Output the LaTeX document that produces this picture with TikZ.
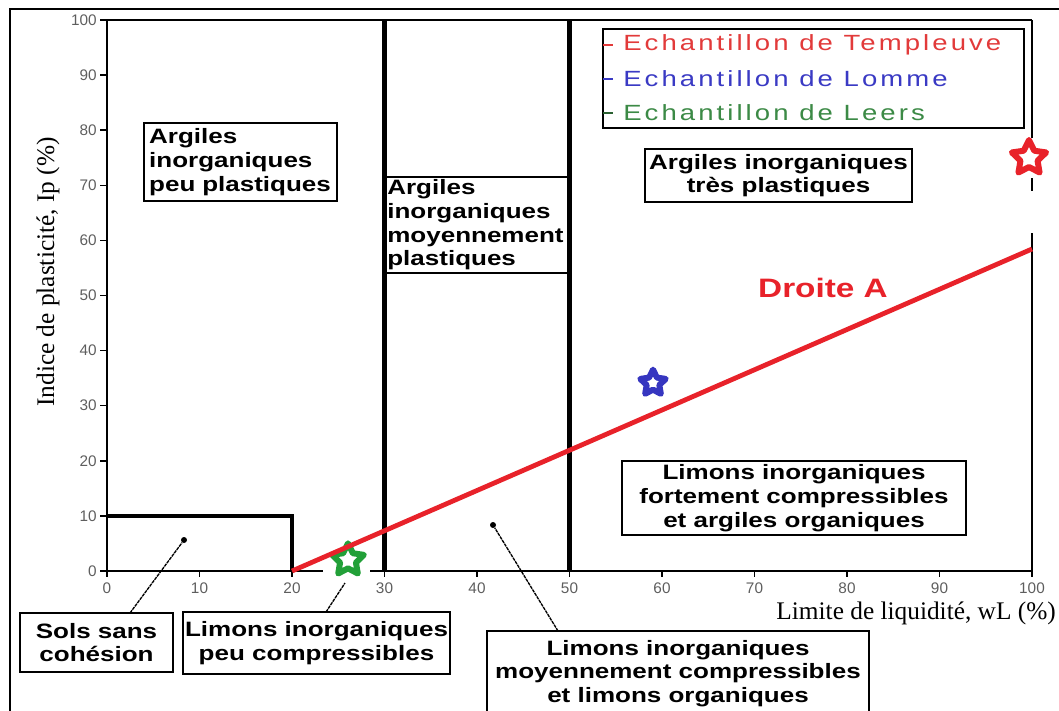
\documentclass[tikz,border=0pt]{standalone}
\usepackage{fontspec}
\setmainfont{Liberation Sans}
\newfontfamily\boxfont{Liberation Sans}[FakeStretch=1.25]
\newfontfamily\legfont{Liberation Sans}[FakeStretch=1.25,LetterSpace=14]
\newfontfamily\serf{Liberation Serif}
\usetikzlibrary{shapes.geometric}
\definecolor{tickgray}{HTML}{5E5E5E}
\definecolor{lineRed}{HTML}{E8222A}
\definecolor{legRed}{HTML}{E23A3A}
\definecolor{legBlue}{HTML}{3A3AC4}
\definecolor{legGreen}{HTML}{3C8A46}
\definecolor{starBlue}{HTML}{3636C0}
\definecolor{starGreen}{HTML}{22A038}
\begin{document}
\begin{tikzpicture}[x=0.75pt,y=-0.75pt,
  box/.style={draw, line width=1.4pt, fill=white, inner sep=0pt, align=center,
    font=\boxfont\bfseries\fontsize{15.6}{17.8}\selectfont},
  axis/.style={line width=1.1pt},
  ticklbl/.style={font=\fontsize{11.5}{12}\selectfont, text=tickgray, inner sep=0pt},
  leader/.style={line width=1pt, dash pattern=on 2.5pt off 0.6pt},
  heavy/.style={line width=3.6pt},
  sample/.style={star, star points=5, star point ratio=2, line width=4.5pt, fill=white, inner sep=0pt, line join=round},
  dot/.style={circle, fill=black, inner sep=0pt, minimum size=4.5pt},
  legtxt/.style={anchor=west, inner sep=0pt, font=\legfont\fontsize{16.5}{18}\selectfont}
]
\useasboundingbox (0,0) rectangle (1059,710);
% outer frame
\draw[line width=1.5pt] (10,715) -- (10,9) -- (1065,9);

% axes
\draw[axis] (107,571) -- (107,20) -- (1032,20);
\draw[axis] (1032,20) -- (1032,138);
\draw[axis] (1032,178) -- (1032,191);
\draw[line width=2pt] (1032,233) -- (1032,571);
\draw[axis] (107,571) -- (323,571);
\draw[axis] (370,571) -- (1032,571);
\foreach \v in {0,10,...,100} {
  \pgfmathsetmacro\yy{571-5.51*\v}
  \pgfmathsetmacro\xx{107+9.25*\v}
  \draw[axis] (100,\yy) -- (107,\yy);
  \node[ticklbl, anchor=east] (ty\v) at (97,\yy) {\v};
  \draw[axis] (\xx,571) -- (\xx,577);
  \node[ticklbl] (tx\v) at (\xx,588) {\v};
}

% axis titles
\node[font=\serf\fontsize{19}{20}\selectfont, rotate=90, inner sep=0pt] (ylab) at (48,272) {Indice de plasticité, Ip (\%)};
\node[font=\serf\fontsize{19}{20}\selectfont, anchor=east, inner sep=0pt] (xlab) at (1056,613) {Limite de liquidité, wL (\%)};

% zone boundaries
\draw[heavy] (384.5,20) -- (384.5,571);
\draw[heavy] (569.5,20) -- (569.5,571);
\draw[line width=3pt] (107,516) -- (292,516) -- (292,571);

% samples
\node[sample, draw=starGreen, minimum size=25pt] (sLeers) at (348,560) {};
\node[sample, draw=starBlue, minimum size=20pt] (sLomme) at (653,383) {};
\node[sample, draw=lineRed, minimum size=27pt] (sTemp) at (1029,158) {};

% A-line
\coordinate (a0) at (292,571);
\coordinate (a1) at (1032,249);
\draw[line width=3.6pt, lineRed] (a0) -- (a1);
\node[text=lineRed, font=\boxfont\bfseries\fontsize{20}{22}\selectfont, inner sep=0pt] (droite) at (823,288) {Droite A};

% zone labels
\node[box, minimum width=144.75pt, minimum height=58.5pt, text width=137pt, align=left] (b1) at (240.5,162)
  {Argiles\\inorganiques\\peu plastiques};
\node[box, draw=none, fill=none, minimum width=138.75pt, minimum height=72pt, text width=136pt, align=left] (b2) at (478,225)
  {Argiles\\inorganiques\\moyennement\\plastiques};
\draw[line width=1.1pt] (384.5,177) -- (569.5,177);
\draw[line width=1.1pt] (384.5,273) -- (569.5,273);
\node[box, minimum width=200.25pt, minimum height=39.75pt] (b3) at (778.5,175.5)
  {Argiles inorganiques\\très plastiques};
\node[box, minimum width=258pt, minimum height=55.5pt] (b4) at (794,498)
  {Limons inorganiques\\fortement compressibles\\et argiles organiques};

% legend
\node[draw, line width=1.4pt, fill=white, minimum width=315.75pt, minimum height=74.25pt, inner sep=0pt] (leg) at (813.5,78.5) {};
\draw[line width=1.8pt, legRed] (603,45) -- (613,45);
\draw[line width=1.8pt, legBlue] (603,79) -- (613,79);
\draw[line width=1.8pt, legGreen!70!black] (603,113) -- (613,113);
\node[legtxt, text=legRed] (l1) at (623,45) {Echantillon de Templeuve};
\node[legtxt, text=legBlue] (l2) at (623,79) {Echantillon de Lomme};
\node[legtxt, text=legGreen] (l3) at (623,113) {Echantillon de Leers};

% bottom boxes
\node[box, minimum width=114.75pt, minimum height=44.25pt] (b5) at (96.5,642.5)
  {Sols sans\\cohésion};
\node[box, minimum width=200.25pt, minimum height=46.5pt] (b6) at (316.5,643)
  {Limons inorganiques\\peu compressibles};
\node[box, minimum width=286.5pt, minimum height=63.75pt] (b7) at (678,673.5)
  {Limons inorganiques\\moyennement compressibles\\et limons organiques};

% leaders
\node[dot] (d1) at (184,540) {};
\node[dot] (d3) at (493,525) {};
\coordinate (e1) at (130,613);
\coordinate (e2a) at (326,612);
\coordinate (e2b) at (345,583);
\coordinate (e3) at (558,631);
\draw[leader] (e1) -- (d1);
\draw[leader] (e2a) -- (e2b);
\draw[leader] (e3) -- (d3);
\end{tikzpicture}
\end{document}
